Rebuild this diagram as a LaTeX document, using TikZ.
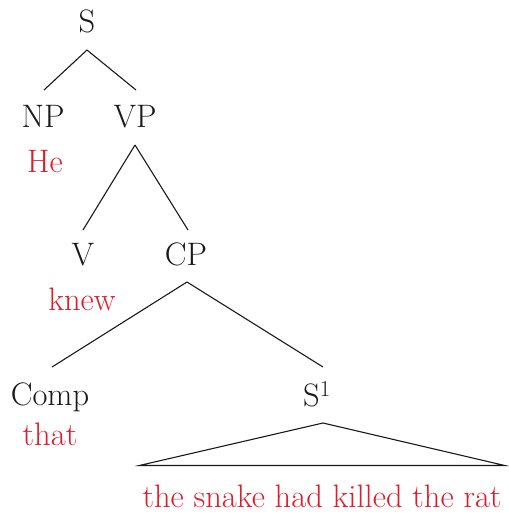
\documentclass[tikz,border=0pt]{standalone}
\definecolor{wordred}{RGB}{222,28,44}
\definecolor{inkgray}{RGB}{25,25,25}
\tikzset{
  cat/.style={anchor=base,inner sep=0pt,outer sep=0pt,text=inkgray,font=\fontsize{32.5}{36}\selectfont},
  word/.style={anchor=base,inner sep=0pt,outer sep=0pt,text=wordred,font=\fontsize{32.5}{36}\selectfont},
  branch/.style={draw=inkgray,line width=1.1pt}
}
\begin{document}
\begin{tikzpicture}[x=1pt,y=-1pt]
\useasboundingbox (0,0) rectangle (508,516);
\node[cat] (S) at (87,33) {S};
\node[cat] (NP) at (43,128) {NP};
\node[cat] (VP) at (135,128) {VP};
\node[word] (He) at (45,172) {He};
\node[cat] (V) at (83,265) {V};
\node[cat] (CP) at (186,265) {CP};
\node[word] (knew) at (82,310) {knew};
\node[cat] (Comp) at (50,405) {Comp};
\node[word] (that) at (50,445) {that};
\node[cat] (S1) at (317,406) {S\textsuperscript{1}};
\node[word] (snt) at (322,507) {the snake had killed the rat};

\draw[branch] ([yshift=-17pt]S.base) -- ([xshift=1pt,yshift=38pt]NP.base);
\draw[branch] ([yshift=-17pt]S.base) -- ([xshift=1pt,yshift=38pt]VP.base);
\draw[branch] ([yshift=-17pt]VP.base) -- ([yshift=35pt]V.base);
\draw[branch] ([yshift=-17pt]VP.base) -- ([xshift=2pt,yshift=35pt]CP.base);
\draw[branch] ([xshift=1pt,yshift=-17pt]CP.base) -- ([xshift=2pt,yshift=38pt]Comp.base);
\draw[branch] ([xshift=1pt,yshift=-17pt]CP.base) -- ([xshift=6pt,yshift=39pt]S1.base);
\draw[branch,line join=miter] ([xshift=6pt,yshift=-17pt]S1.base)
  -- ([xshift=-3pt,yshift=19pt]snt.north west)
  -- ([xshift=3pt,yshift=19pt]snt.north east) -- cycle;
\end{tikzpicture}
\end{document}
